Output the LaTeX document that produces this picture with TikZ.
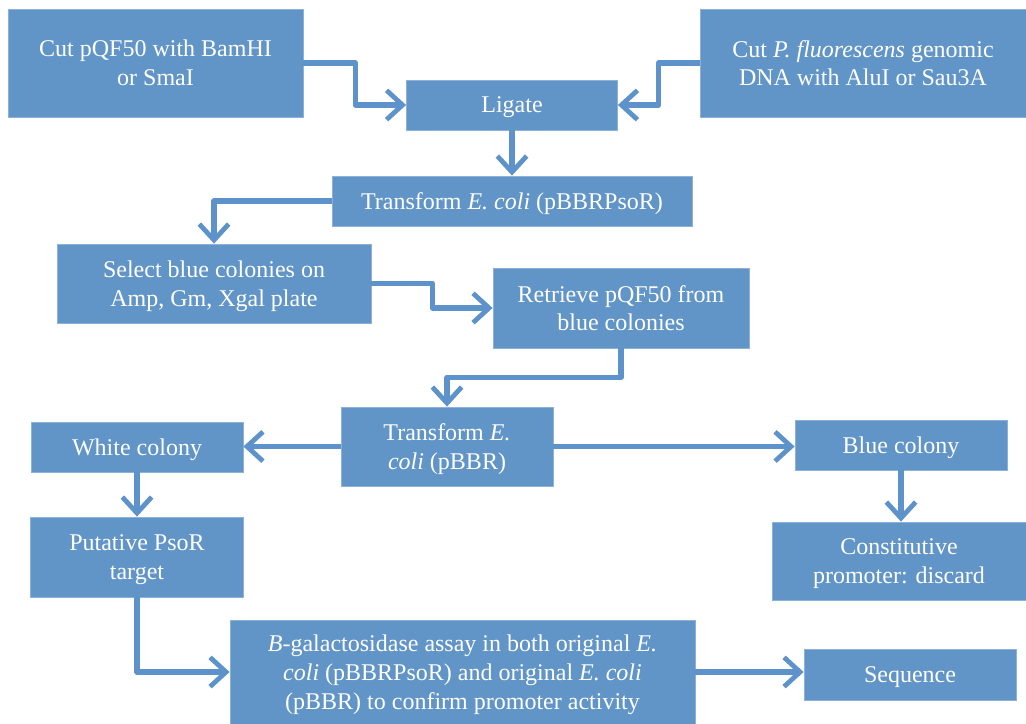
\documentclass[tikz,border=0pt]{standalone}
\usepackage{fontspec}
\setmainfont{Liberation Serif}
\usepackage{tikz}
\usepackage{xcolor}
\usetikzlibrary{arrows.meta,positioning,calc}
\definecolor{boxblue}{HTML}{6194C7}
\definecolor{edgeblue}{HTML}{8DB2D9}
\definecolor{arrblue}{HTML}{5E92CA}
\tikzset{
  stepbox/.style={draw=edgeblue,fill=boxblue,line width=0.6pt,
                  inner sep=0pt,align=center,text=white,text depth=0pt,
                  font=\fontsize{18}{21.6}\selectfont},
  flowarr/.style={-{Straight Barb[length=12pt,width=22pt,line width=3.6pt]},
                  line width=4pt,color=arrblue,line join=round}
}

\begin{document}
\begin{tikzpicture}[x=0.75pt,y=-0.75pt,>=Latex]
      \useasboundingbox (0,0) rectangle (1026,724);
      \node[stepbox,minimum width=221.25pt,minimum height=81pt] (cut1) at (155.5,63)
        {Cut pQF50 with BamHI\\or SmaI};
      \node[stepbox,minimum width=244.5pt,minimum height=81pt] (cut2) at (863,63)
        {Cut \textit{P. fluorescens} genomic\\DNA with AluI or Sau3A};
      \node[stepbox,minimum width=158.25pt,minimum height=37.5pt] (lig) at (512,105) {Ligate};
      \node[stepbox,minimum width=270pt,minimum height=37.5pt] (tr1) at (512,201)
        {Transform \textit{E. coli} (pBBRPsoR)};
      \node[stepbox,minimum width=235.5pt,minimum height=59.25pt] (sel) at (214,283.5)
        {Select blue colonies on\\Amp, Gm, Xgal plate};
      \node[stepbox,minimum width=192pt,minimum height=60pt] (ret) at (621,308)
        {Retrieve pQF50 from\\blue colonies};
      \node[stepbox,minimum width=159pt,minimum height=59.25pt] (tr2) at (447,446.5)
        {Transform \textit{E.}\\\textit{coli} (pBBR)};
      \node[stepbox,minimum width=159pt,minimum height=37.5pt] (white) at (137,447) {White colony};
      \node[stepbox,minimum width=159pt,minimum height=37.5pt] (blue) at (901,445) {Blue colony};
      \node[stepbox,minimum width=159.75pt,minimum height=60pt] (put) at (137,557)
        {Putative PsoR\\target};
      \node[stepbox,minimum width=190.5pt,minimum height=58.5pt] (con) at (899,561)
        {Constitutive\\promoter: discard};
      \node[stepbox,minimum width=348.75pt,minimum height=78pt] (assay) at (462.5,672)
        {\textit{B}-galactosidase assay in both original \textit{E.}\\
         \textit{coli} (pBBRPsoR) and original \textit{E. coli}\\
         (pBBR) to confirm promoter activity};
      \node[stepbox,minimum width=159pt,minimum height=38.25pt] (seq) at (910,674.5) {Sequence};

      \draw[flowarr] (cut1.east) -- ++(52,0) |- (lig.west);
      \draw[flowarr] (cut2.west) -- ++(-41,0) |- (lig.east);
      \draw[flowarr] (lig.south) -- (lig.south |- tr1.north);
      \draw[flowarr] (tr1.west) -| (sel.north);
      \draw[flowarr] (sel.east) -- ++(61,0) |- (ret.west);
      \draw[flowarr] (ret.south) -- ++(0,29) -| (tr2.north);
      \draw[flowarr] (tr2.west) -- (tr2.west -| white.east);
      \draw[flowarr] (tr2.east) -- (tr2.east -| blue.west);
      \draw[flowarr] (white.south) -- (white.south |- put.north);
      \draw[flowarr] (blue.south) -- (blue.south |- con.north);
      \draw[flowarr] (put.south) |- (assay.west);
      \draw[flowarr] (assay.east) -- (assay.east -| seq.west);
    \end{tikzpicture}
\end{document}
